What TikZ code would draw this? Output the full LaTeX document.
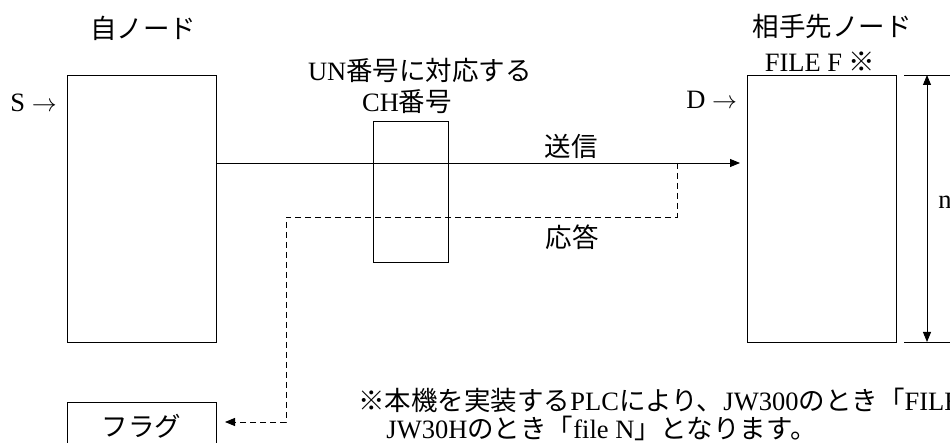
\documentclass[tikz,border=0pt]{standalone}
\usepackage{fontspec}
\setmainfont{Liberation Serif}
\newfontfamily\jpfont{Noto Sans CJK JP}
\newcommand\J[1]{{\jpfont #1}}
\usetikzlibrary{arrows.meta}
\begin{document}
\begin{tikzpicture}[x=1pt,y=-1pt,line width=0.9pt,
  lbl/.style={font=\fontsize{26.5}{32}\selectfont, inner sep=0pt},
  boxn/.style={draw, inner sep=0pt, outer sep=0pt},
  tip/.style={-{Triangle[length=10pt,width=8pt]}},
  dimtip/.style={{Triangle[length=10pt,width=8pt]}-{Triangle[length=10pt,width=8pt]}},
  resp/.style={dash pattern=on 6pt off 4pt}]
\useasboundingbox (0,0) rectangle (950,443);
% boxes
\node[boxn, minimum width=149pt, minimum height=267pt] (self) at (141.5,208.5) {};
\node[boxn, minimum width=149pt, minimum height=267pt] (dest) at (821.5,208.5) {};
\node[boxn, minimum width=75pt, minimum height=141pt] (ch) at (410.5,191.5) {};
\node[boxn, lbl, minimum width=149pt, minimum height=48pt] (flag) at (141.5,426) {\J{フラグ}};
% labels
\node[lbl] (selfT) at (143,28) {\J{自ノード}};
\node[lbl] (destT) at (832,27) {\J{相手先ノード}};
\node[lbl] (file) at (820,62) {FILE F \J{※}};
\node[lbl] (un) at (420,70) {UN\J{番号に対応する}};
\node[lbl] (chT) at (407,102) {CH\J{番号}};
\node[lbl, anchor=west] (S) at (10,103) {S $\rightarrow$};
\node[lbl, anchor=west] (D) at (686,100) {D $\rightarrow$};
\node[lbl] (send) at (571,146) {\J{送信}};
\node[lbl] (respT) at (572,237) {\J{応答}};
\node[lbl, anchor=west] (n) at (938,202) {n};
\node[lbl, anchor=west] (note1) at (358,400) {\J{※本機を実装する}PLC\J{により、}JW300\J{のとき「}FILE};
\node[lbl, anchor=west] (note2) at (386,428) {JW30H\J{のとき「}file N\J{」となります。}};
% coordinates
\coordinate (sy) at (0,163);
\coordinate (tap) at (677,163);
\coordinate (c1) at (286,217);
\coordinate (fy) at (0,422);
\coordinate (dt) at (927,75);
\coordinate (db) at (927,342);
\coordinate (e1a) at (904,75);
\coordinate (e1b) at (960,75);
\coordinate (e2a) at (904,342);
\coordinate (e2b) at (960,342);
% connectors
\draw[tip, shorten >=7pt] (self.east |- sy) -- (dest.west |- sy);
\draw[resp, tip, shorten >=9pt] (tap) |- (c1) |- (flag.east |- fy);
\draw[dimtip] (dt) -- (db);
\draw (e1a) -- (e1b);
\draw (e2a) -- (e2b);
\end{tikzpicture}
\end{document}
